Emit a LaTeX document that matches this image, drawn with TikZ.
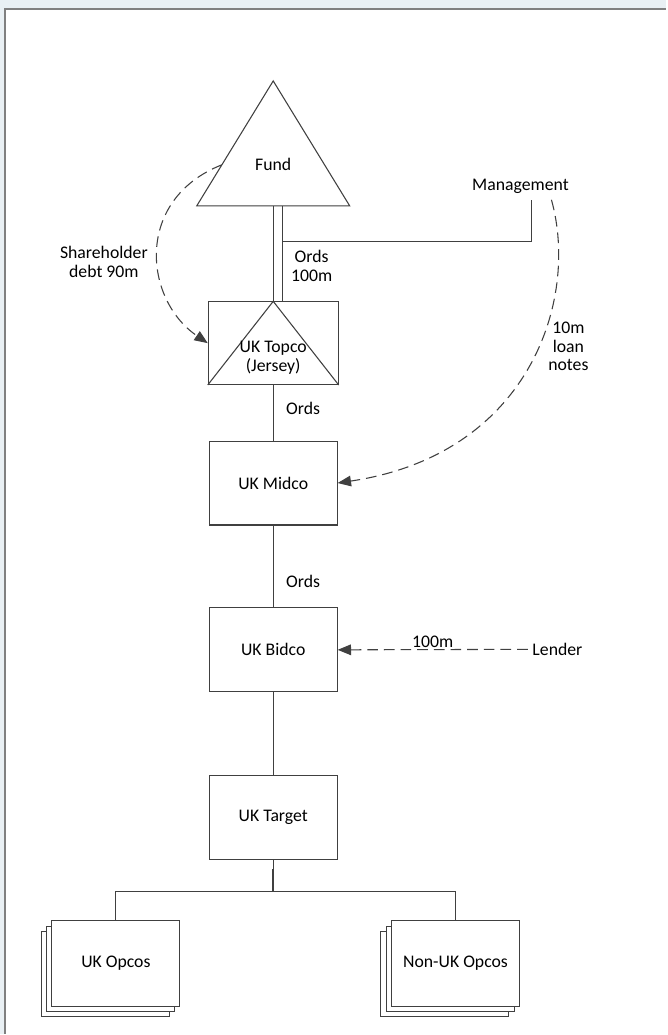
\documentclass[tikz,border=0pt]{standalone}
\usepackage{fontspec}
\setmainfont{Carlito}
\usepackage{tikz}
\usetikzlibrary{arrows.meta,shadows}

\definecolor{pagebg}{HTML}{E9F0F4}
\definecolor{pageedge}{HTML}{808080}
\definecolor{ink}{HTML}{404040}

\tikzset{
  entity/.style={draw=ink, line width=0.8pt, fill=white, minimum width=96pt,
    minimum height=63pt, inner sep=0pt},
  opco/.style={entity, minimum height=64pt,
    double copy shadow={shadow xshift=-4pt, shadow yshift=-4pt, draw=ink, fill=white}},
  link/.style={draw=ink, line width=0.8pt},
  loan/.style={draw=ink, line width=0.8pt, dash pattern=on 8pt off 4.5pt,
    -{Triangle[length=10pt,width=8pt]}},
  note/.style={align=center, inner sep=1pt}
}

\begin{document}
\begin{tikzpicture}[x=0.75pt, y=-0.75pt, font=\fontsize{13.3}{14}\selectfont]
        % page
        \fill[pagebg] (0,0) rectangle (667,1035);
        \fill[white] (5,9) rectangle (667,1035);
        \draw[pageedge, line width=1.6pt] (5,1035) -- (5,9) -- (667,9);
        \useasboundingbox (0,0) rectangle (667,1035);

        % fund
        \draw[link] (197,206) -- (273.5,81) -- (350,206) -- cycle;
        \node (fund) at (273.5,165) {Fund};
        \coordinate (fundbase) at (273.5,206);
        \coordinate (fundrail) at (283,206);
        \coordinate (fundleft) at (222,165);

        % companies
        \node[entity, minimum width=97.5pt, minimum height=62pt] (topco) at (273.5,343.5) {};
        \draw[link] (topco.south west) -- (topco.north) -- (topco.south east);
        \node[note] (topcolabel) at (273.5,358) {UK Topco\\(Jersey)};
        \node[entity] (midco) at (273.5,483.5) {UK Midco};
        \node[entity] (bidco) at (273.5,650.5) {UK Bidco};
        \node[entity] (target) at (273.5,818) {UK Target};
        \node[opco] (ukopco) at (116,964.5) {UK Opcos};
        \node[opco] (nonukopco) at (456,964.5) {Non-UK Opcos};

        % outsiders
        \node (mgmt) at (521,187) {Management};
        \node (lender) at (558,650) {Lender};
        \coordinate (mgmtfoot) at (532,200);
        \coordinate (mgmtjoin) at (283,242);
        \coordinate (mgmtloan) at (552,200);

        % ordinary shares
        \draw[link] (fundbase) -- (topco.north);
        \draw[link] (fundrail) -- (fundrail |- topco.north);
        \draw[link] (mgmtjoin) -| (mgmtfoot);
        \node[note] at (312,266) {Ords\\100m};
        \draw[link] (topco.south) -- node[pos=0.42, right=6pt] {Ords} (midco.north);
        \draw[link] (midco.south) -- node[pos=0.68, right=6pt] {Ords} (bidco.north);
        \draw[link] (bidco.south) -- (target.north);

        % opcos
        \coordinate (split) at (273.5,892);
        \draw[link] (target.south) -- (split);
        \draw[ink, line width=1.6pt] (split) -- ++(0,-22);
        \draw[link] (ukopco.north) |- (split) -| (nonukopco.north);

        % debt
        \draw[loan] (fundleft) .. controls (134,200) and (144,300) .. (topco.west);
        \node[note] at (104,262) {Shareholder\\debt 90m};
        \draw[loan] (mgmtloan) .. controls (580,300) and (530,455) .. (midco.east);
        \node[note] at (569,347) {10m\\loan\\notes};
        \draw[loan] (lender.west) -- node[above, inner sep=1pt] {100m} (bidco.east);
\end{tikzpicture}
\end{document}
